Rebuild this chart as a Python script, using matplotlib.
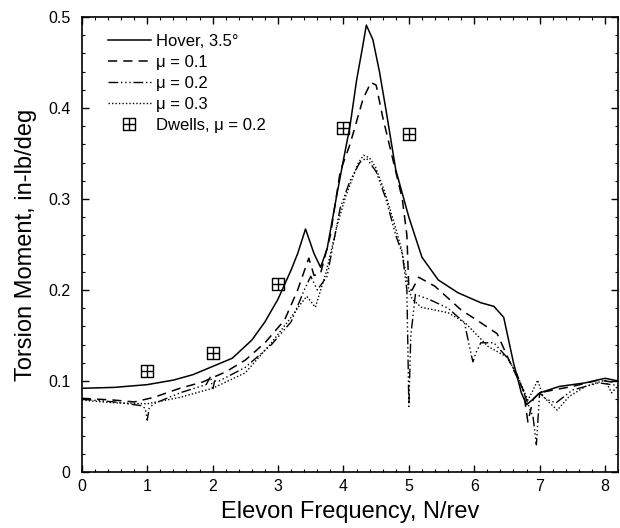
import matplotlib
matplotlib.use("Agg")
import matplotlib.pyplot as plt
from matplotlib.path import Path
from matplotlib.ticker import MultipleLocator

plt.rcParams['font.family'] = ['Liberation Sans', 'DejaVu Sans']

# hover, 3.5 deg
f_hover = [0, 0.5, 1.0, 1.4, 1.7, 2.0, 2.3, 2.6, 2.8, 3.0, 3.2, 3.3, 3.42, 3.55, 3.65, 3.75,
           3.9, 4.0, 4.1, 4.2, 4.3, 4.35, 4.45, 4.55, 4.65, 4.8, 5.0, 5.2, 5.45, 5.75, 6.1,
           6.3, 6.45, 6.6, 6.72, 6.8, 6.9, 7.0, 7.3, 7.7, 8.0, 8.2]
m_hover = [0.092, 0.093, 0.096, 0.101, 0.107, 0.116, 0.125, 0.145, 0.165, 0.19, 0.222, 0.24,
           0.267, 0.24, 0.225, 0.245, 0.305, 0.343, 0.38, 0.43, 0.47, 0.491, 0.475, 0.44,
           0.398, 0.332, 0.28, 0.236, 0.211, 0.197, 0.186, 0.182, 0.17, 0.12, 0.087, 0.074,
           0.08, 0.087, 0.094, 0.098, 0.103, 0.100]

# mu = 0.1
f_mu1 = [0, 0.5, 0.8, 1.1, 1.5, 1.85, 2.2, 2.5, 2.8, 3.1, 3.3, 3.47, 3.55, 3.65, 3.8, 3.95,
         4.1, 4.2, 4.3, 4.42, 4.5, 4.6, 4.75, 4.9, 4.97, 5.0, 5.05, 5.15, 5.4, 5.8, 6.1,
         6.35, 6.55, 6.75, 6.82, 6.9, 7.0, 7.2, 7.5, 7.9, 8.2]
m_mu1 = [0.081, 0.079, 0.077, 0.082, 0.092, 0.099, 0.110, 0.123, 0.142, 0.167, 0.2, 0.235,
         0.216, 0.218, 0.26, 0.33, 0.36, 0.385, 0.41, 0.428, 0.425, 0.39, 0.345, 0.30,
         0.26, 0.2, 0.2, 0.214, 0.204, 0.178, 0.164, 0.152, 0.12, 0.09, 0.055, 0.08, 0.087,
         0.09, 0.094, 0.101, 0.098]

# mu = 0.2
f_mu2 = [0, 0.5, 0.9, 0.97, 1.0, 1.03, 1.1, 1.5, 1.9, 1.97, 2.0, 2.03, 2.1, 2.5, 2.9, 3.2,
         3.4, 3.5, 3.6, 3.75, 3.95, 4.1, 4.25, 4.35, 4.5, 4.65, 4.8, 4.9, 4.97, 5.0, 5.03,
         5.1, 5.3, 5.6, 5.85, 5.95, 5.98, 6.02, 6.1, 6.3, 6.5, 6.65, 6.8, 6.9, 6.95, 7.0,
         7.1, 7.25, 7.5, 7.9, 8.2]
m_mu2 = [0.08, 0.077, 0.073, 0.07, 0.057, 0.07, 0.075, 0.087, 0.096, 0.105, 0.09, 0.1, 0.1,
         0.115, 0.14, 0.165, 0.2, 0.215, 0.2, 0.215, 0.29, 0.32, 0.34, 0.345, 0.33, 0.30,
         0.26, 0.24, 0.2, 0.072, 0.15, 0.195, 0.19, 0.18, 0.164, 0.13, 0.121, 0.13, 0.142,
         0.142, 0.126, 0.108, 0.079, 0.06, 0.03, 0.087, 0.08, 0.076, 0.09, 0.098, 0.095]

# mu = 0.3
f_mu3 = [0, 0.5, 1.0, 1.5, 2.0, 2.5, 2.9, 3.2, 3.35, 3.44, 3.57, 3.73, 3.9, 4.03, 4.15, 4.23,
         4.31, 4.4, 4.49, 4.64, 4.79, 4.89, 4.95, 5.0, 5.05, 5.19, 5.6, 5.86, 6.21, 6.51,
         6.67, 6.82, 6.9, 6.97, 7.05, 7.27, 7.45, 7.7, 8.0, 8.1, 8.2]
m_mu3 = [0.079, 0.076, 0.075, 0.082, 0.092, 0.109, 0.142, 0.17, 0.185, 0.193, 0.181, 0.218,
         0.27, 0.302, 0.325, 0.34, 0.348, 0.345, 0.335, 0.306, 0.27, 0.244, 0.22, 0.2,
         0.19, 0.181, 0.175, 0.164, 0.138, 0.126, 0.104, 0.079, 0.09, 0.101, 0.083, 0.068,
         0.083, 0.094, 0.101, 0.087, 0.095]

# dwells, mu = 0.2
f_dwell = [1, 2, 3, 4, 5]
m_dwell = [0.111, 0.131, 0.207, 0.378, 0.371]

# square with a cross inside
box_plus = Path([(-1, -1), (1, -1), (1, 1), (-1, 1), (-1, -1), (0, -1), (0, 1), (-1, 0), (1, 0)],
                [Path.MOVETO, Path.LINETO, Path.LINETO, Path.LINETO, Path.CLOSEPOLY,
                 Path.MOVETO, Path.LINETO, Path.MOVETO, Path.LINETO])

fig = plt.figure(figsize=(6.2, 5.28), dpi=100)
ax = fig.add_axes([0.132, 0.106, 0.865, 0.862])

ax.plot(f_hover, m_hover, color='black', lw=1.1, ls='-', label='Hover, 3.5°')
ax.plot(f_mu1, m_mu1, color='black', lw=1.1, ls=(0, (6, 4)), label='μ = 0.1')
ax.plot(f_mu2, m_mu2, color='black', lw=1.0, ls=(0, (7, 2, 1, 2, 1, 2, 1, 2)), label='μ = 0.2')
ax.plot(f_mu3, m_mu3, color='black', lw=1.0, ls=(0, (1, 1.5)), label='μ = 0.3')
ax.plot(f_dwell, m_dwell, ls='none', marker=box_plus, ms=9, mfc='none', mec='black',
        mew=1.0, label='Dwells, μ = 0.2')

ax.set_xlim(0, 8.2)
ax.set_ylim(0, 0.5)
ax.xaxis.set_major_locator(MultipleLocator(1))
ax.xaxis.set_minor_locator(MultipleLocator(0.2))
ax.yaxis.set_major_locator(MultipleLocator(0.1))
ax.yaxis.set_minor_locator(MultipleLocator(0.02))
ax.set_yticks([0, 0.1, 0.2, 0.3, 0.4, 0.5])
ax.set_yticklabels(['0', '0.1', '0.2', '0.3', '0.4', '0.5'])
ax.tick_params(which='both', direction='in', top=True, right=True, labelsize=11.5)
ax.tick_params(which='major', length=5, width=1)
ax.tick_params(axis='y', pad=8)
ax.tick_params(axis='x', pad=5)
ax.tick_params(which='minor', length=2.5, width=0.8)
for s in ax.spines.values():
    s.set_linewidth(1.2)

ax.set_xlabel('Elevon Frequency, N/rev', fontsize=17, labelpad=5)
ax.set_ylabel('Torsion Moment, in-lb/deg', fontsize=17, labelpad=8)

ax.legend(loc='upper left', bbox_to_anchor=(0.02, 0.995), frameon=False, fontsize=12,
          handlelength=2.6, handletextpad=0.3, labelspacing=0.36, numpoints=1)

fig.savefig('out.png', dpi=100)
